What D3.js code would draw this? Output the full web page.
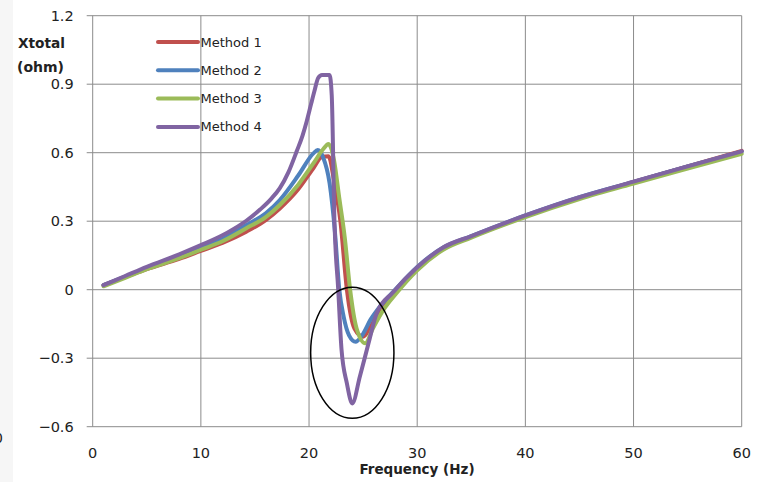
<!DOCTYPE html>
<html>
<head>
<meta charset="utf-8">
<script src="https://cdn.jsdelivr.net/npm/d3@7"></script>
<style>
  body { margin: 0; background: #fff; }
  svg { display: block; font-family: "DejaVu Sans", Verdana, sans-serif; }
</style>
</head>
<body>
<div id="root"></div>
<script>
const width = 771;
const height = 482;
const margin = { top: 15.7, right: 29.3, bottom: 55.3, left: 92.7 };

// tick labels
const xTicks = [0, 10, 20, 30, 40, 50, 60];
const yTicks = [-0.6, -0.3, 0, 0.3, 0.6, 0.9, 1.2];
const seriesNames = ["Method 1", "Method 2", "Method 3", "Method 4"];
const colors = ["#C0504D", "#4F81BD", "#9BBB59", "#8064A2"];

// Method 1
const freq1 = [1, 3, 5, 8, 10, 12, 14.2, 16, 17.3, 19, 20.4, 21.2, 21.8, 22.3, 22.9, 23.5, 24.2, 25.0, 25.6, 26.6, 27.8, 30, 32.4, 35, 40, 45, 50, 55, 60];
const xt1 = [0.02, 0.055, 0.09, 0.135, 0.17, 0.205, 0.254, 0.305, 0.356, 0.44, 0.532, 0.582, 0.585, 0.48, 0.3, 0.0, -0.17, -0.206, -0.17, -0.08, -0.012, 0.095, 0.18, 0.232, 0.322, 0.402, 0.472, 0.54, 0.608];
// Method 2
const freq2 = [1, 3, 5, 8, 10, 12, 14.2, 16, 17.3, 19, 20.4, 20.8, 21.3, 21.9, 22.4, 22.8, 23.2, 23.7, 24.3, 24.9, 25.7, 26.55, 27.8, 30, 32.4, 35, 40, 45, 50, 55, 60];
const xt2 = [0.02, 0.057, 0.095, 0.145, 0.185, 0.222, 0.283, 0.335, 0.393, 0.5, 0.597, 0.612, 0.58, 0.466, 0.25, 0.0, -0.118, -0.2, -0.228, -0.2, -0.13, -0.074, -0.008, 0.1, 0.185, 0.235, 0.325, 0.405, 0.472, 0.54, 0.605];
// Method 3
const freq3 = [1, 3, 5, 8, 10, 12, 14.2, 16, 17.3, 19, 20.4, 21.3, 21.8, 22.3, 22.8, 23.3, 23.8, 24.4, 25.2, 25.9, 27, 28, 30, 32.4, 35, 40, 45, 50, 55, 60];
const xt3 = [0.015, 0.052, 0.09, 0.138, 0.175, 0.212, 0.269, 0.318, 0.371, 0.46, 0.553, 0.615, 0.638, 0.57, 0.4, 0.23, 0.0, -0.17, -0.235, -0.17, -0.08, -0.02, 0.085, 0.175, 0.228, 0.318, 0.397, 0.465, 0.53, 0.595];
// Method 4
const freq4 = [1, 3, 5, 8, 10, 12, 13, 14.2, 15.5, 16.5, 17.3, 18.1, 18.85, 19.4, 19.8, 20.2, 20.5, 20.85, 21.2, 21.9, 22.1, 22.35, 22.7, 23.0, 23.5, 24.0, 24.7, 25.5, 26.25, 27.8, 30, 32.4, 35, 40, 45, 50, 55, 60];
const xt4 = [0.02, 0.06, 0.1, 0.155, 0.195, 0.238, 0.265, 0.302, 0.352, 0.398, 0.445, 0.515, 0.605, 0.675, 0.74, 0.815, 0.87, 0.928, 0.94, 0.94, 0.85, 0.3, 0.0, -0.26, -0.41, -0.498, -0.38, -0.235, -0.103, -0.01, 0.098, 0.185, 0.235, 0.325, 0.405, 0.473, 0.54, 0.606];

const freqs = [freq1, freq2, freq3, freq4];
const values = [xt1, xt2, xt3, xt4];

// highlighted region (data units)
const ringCenter = [24.0, -0.276];
const ringRadius = [3.85, 0.287];

const innerW = width - margin.left - margin.right;
const innerH = height - margin.top - margin.bottom;

const x = d3.scaleLinear().domain([0, 60]).range([0, innerW]);
const y = d3.scaleLinear().domain([-0.6, 1.2]).range([innerH, 0]);

const svg = d3.select("#root")
    .append("svg")
    .attr("width", width)
    .attr("height", height);

// faint edge at the very left, as in the source image
svg.append("rect")
    .attr("x", 0).attr("y", 0)
    .attr("width", 13).attr("height", height)
    .attr("fill", "#f6f6f6");
svg.append("text")
    .attr("x", -6).attr("y", 443)
    .attr("font-size", 14)
    .attr("fill", "#222")
    .text("0");

const g = svg.append("g")
    .attr("transform", `translate(${margin.left},${margin.top})`);

const gridColor = "#8c8c8c";

// horizontal gridlines + left ticks
g.append("g")
    .selectAll("line")
    .data(yTicks)
    .join("line")
        .attr("x1", -6)
        .attr("x2", innerW)
        .attr("y1", d => y(d))
        .attr("y2", d => y(d))
        .attr("stroke", gridColor)
        .attr("stroke-width", 1);

// vertical gridlines
g.append("g")
    .selectAll("line")
    .data(xTicks)
    .join("line")
        .attr("x1", d => x(d))
        .attr("x2", d => x(d))
        .attr("y1", 0)
        .attr("y2", innerH)
        .attr("stroke", gridColor)
        .attr("stroke-width", 1);

// y tick labels
g.append("g")
    .selectAll("text")
    .data(yTicks)
    .join("text")
        .attr("x", -19)
        .attr("y", d => y(d))
        .attr("dy", "0.35em")
        .attr("text-anchor", "end")
        .attr("font-size", 14.5)
        .attr("fill", "#222")
        .text(d => d3.format("")(d));

// x tick labels
g.append("g")
    .selectAll("text")
    .data(xTicks)
    .join("text")
        .attr("x", d => x(d))
        .attr("y", innerH + 26.5)
        .attr("dy", "0.35em")
        .attr("text-anchor", "middle")
        .attr("font-size", 14.5)
        .attr("fill", "#222")
        .text(d => d);

// axis titles
svg.append("text")
    .attr("x", 417)
    .attr("y", 469)
    .attr("dy", "0.35em")
    .attr("text-anchor", "middle")
    .attr("font-size", 13.5)
    .attr("font-weight", "bold")
    .attr("fill", "#222")
    .text("Frequency (Hz)");

const yTitle = svg.append("text")
    .attr("font-weight", "bold")
    .attr("fill", "#222");
yTitle.append("tspan").attr("x", 18).attr("y", 43).attr("dy", "0.35em")
    .attr("font-size", 13.7).text("Xtotal");
yTitle.append("tspan").attr("x", 17).attr("y", 67).attr("dy", "0.35em")
    .attr("font-size", 14).text("(ohm)");

// series
const line = d3.line()
    .x(d => x(d[0]))
    .y(d => y(d[1]))
    .curve(d3.curveMonotoneX);

seriesNames.forEach((name, i) => {
    const pts = freqs[i].map((f, j) => [f, values[i][j]]);
    g.append("path")
        .datum(pts)
        .attr("fill", "none")
        .attr("stroke", colors[i])
        .attr("stroke-width", 4)
        .attr("stroke-linejoin", "round")
        .attr("stroke-linecap", "round")
        .attr("d", line);
});

// ellipse highlight
g.append("ellipse")
    .attr("cx", x(ringCenter[0]))
    .attr("cy", y(ringCenter[1]))
    .attr("rx", x(ringRadius[0]) - x(0))
    .attr("ry", y(0) - y(ringRadius[1]))
    .attr("fill", "none")
    .attr("stroke", "#000")
    .attr("stroke-width", 1.5);

// legend
const legend = svg.append("g");
const legendRow = legend.selectAll("g")
    .data(seriesNames)
    .join("g")
        .attr("transform", (d, i) => `translate(157,${42 + i * 28.3})`);

legendRow.append("line")
    .attr("x1", 1).attr("x2", 41)
    .attr("stroke", (d, i) => colors[i])
    .attr("stroke-width", 4)
    .attr("stroke-linecap", "round");

legendRow.append("text")
    .attr("x", 43.5)
    .attr("dy", "0.35em")
    .attr("font-size", 13)
    .attr("fill", "#222")
    .text(d => d);
</script>
</body>
</html>
